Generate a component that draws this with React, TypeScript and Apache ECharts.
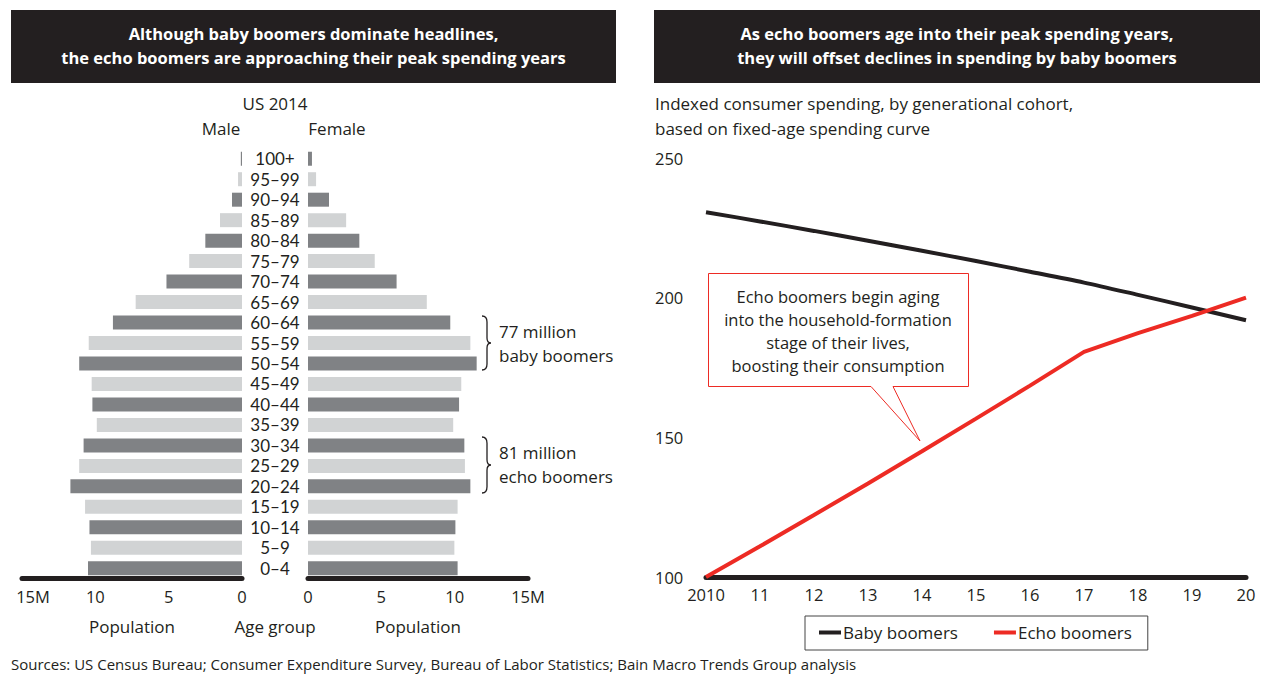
import React, { useEffect, useRef } from "react";
import * as echarts from "echarts";

const ageGroups = ["0–4","5–9","10–14","15–19","20–24","25–29","30–34","35–39","40–44","45–49","50–54","55–59","60–64","65–69","70–74","75–79","80–84","85–89","90–94","95–99","100+"];
const maleM = [10.5,10.3,10.4,10.7,11.7,11.1,10.8,9.9,10.2,10.25,11.1,10.45,8.8,7.25,5.15,3.6,2.5,1.5,0.68,0.27,0.08];
const femaleM = [10.2,9.98,10.05,10.2,11.07,10.7,10.66,9.9,10.3,10.45,11.5,11.07,9.7,8.1,6.04,4.55,3.5,2.6,1.43,0.55,0.27];

const years = ["2010","11","12","13","14","15","16","17","18","19","20"];
const babyBoomers = [230.6,227.3,223.9,220.4,216.8,213.1,209.3,205.4,201.0,196.5,191.9];
const echoBoomers = [100,111,122.2,133.5,145,156.7,168.5,180.6,187.3,193.5,200];

const DARK = "#808285";
const LIGHT = "#d1d3d4";
const INK = "#231f20";
const RED = "#ed2b24";
const FONT = "'Open Sans'";

const BRACE = "M0,0 Q5,0 5,6 L5,22 Q5,27 9,27 Q5,27 5,32 L5,48 Q5,54 0,54";

export default function App() {
  const ref = useRef<HTMLDivElement>(null);
  useEffect(() => {
    const BraceShape = echarts.graphic.extendPath(BRACE, {});
    echarts.graphic.registerShape("braceShape", BraceShape);
    const chart = echarts.init(ref.current!, null, { renderer: "svg" });
    const txt = { fontFamily: "Open Sans", fontSize: 16.5, color: INK };
    const barColor = (p: any) => (p.dataIndex % 2 === 0 ? DARK : LIGHT);
    const t = (x: number, y: number, text: string, extra: any = {}) => ({
      type: "text", x, y, ...extra,
      style: { text, fill: INK, font: `17px ${FONT}`, verticalAlign: "middle", ...(extra.style || {}) },
    });
    chart.setOption({
      animation: false,
      textStyle: { fontFamily: "Open Sans" },
      grid: [
        { left: 22, width: 220, top: 148.5, height: 430 },
        { left: 308, width: 220, top: 148.5, height: 430 },
        { left: 706, right: 18, top: 158, bottom: 102 },
      ],
      xAxis: [
        {
          gridIndex: 0, type: "value", inverse: true, min: 0, max: 15, interval: 5,
          axisLine: { show: true, lineStyle: { color: INK, width: 5 } },
          axisTick: { show: false }, splitLine: { show: false },
          axisLabel: {
            ...txt, margin: 9,
            formatter: (v: number) => (v === 15 ? "{m|15M}" : String(v)),
            rich: { m: { ...txt, padding: [0, 0, 0, 22] } },
          },
          name: "Population", nameLocation: "middle", nameGap: 39,
          nameTextStyle: { ...txt, fontSize: 17 },
        },
        {
          gridIndex: 1, type: "value", min: 0, max: 15, interval: 5,
          axisLine: { show: true, lineStyle: { color: INK, width: 5 } },
          axisTick: { show: false }, splitLine: { show: false },
          axisLabel: { ...txt, margin: 9, formatter: (v: number) => (v === 15 ? "15M" : String(v)) },
          name: "Population", nameLocation: "middle", nameGap: 39,
          nameTextStyle: { ...txt, fontSize: 17 },
        },
        {
          gridIndex: 2, type: "category", data: years, boundaryGap: false,
          axisLine: { show: true, lineStyle: { color: INK, width: 5 } },
          axisTick: { show: false },
          axisLabel: { ...txt, margin: 9, interval: 0 },
        },
      ],
      yAxis: [
        {
          gridIndex: 0, type: "category", data: ageGroups, position: "right",
          axisLine: { show: false }, axisTick: { show: false },
          axisLabel: { fontFamily: "Lato", fontSize: 17, color: INK, align: "center", margin: 33, interval: 0, lineHeight: 18 },
        },
        {
          gridIndex: 1, type: "category", data: ageGroups,
          axisLine: { show: false }, axisTick: { show: false }, axisLabel: { show: false },
        },
        {
          gridIndex: 2, type: "value", min: 100, max: 250, interval: 50,
          axisLine: { show: false }, axisTick: { show: false }, splitLine: { show: false },
          axisLabel: { ...txt, align: "left", margin: 51 },
        },
      ],
      legend: {
        data: ["Baby boomers", "Echo boomers"],
        left: 805, top: 616,
        borderColor: "#444", borderWidth: 1, padding: [8, 16, 9, 14],
        itemWidth: 22, itemHeight: 4, itemGap: 36, icon: "rect",
        textStyle: { ...txt, fontSize: 17, padding: [0, 0, 0, -3] },
      },
      series: [
        { type: "bar", name: "Male", xAxisIndex: 0, yAxisIndex: 0, data: maleM, barWidth: 14, itemStyle: { color: barColor } },
        { type: "bar", name: "Female", xAxisIndex: 1, yAxisIndex: 1, data: femaleM, barWidth: 14, itemStyle: { color: barColor } },
        { type: "line", name: "Baby boomers", xAxisIndex: 2, yAxisIndex: 2, data: babyBoomers, smooth: 0.3, showSymbol: false, lineStyle: { color: INK, width: 4 }, itemStyle: { color: INK } },
        { type: "line", name: "Echo boomers", xAxisIndex: 2, yAxisIndex: 2, data: echoBoomers, showSymbol: false, lineStyle: { color: RED, width: 4 }, itemStyle: { color: RED } },
      ],
      graphic: [
        { type: "rect", shape: { x: 11, y: 10, width: 605, height: 73 }, style: { fill: INK } },
        { type: "rect", shape: { x: 654, y: 10, width: 606, height: 73 }, style: { fill: INK } },
        { type: "text", x: 313.5, y: 33, style: { text: "Although baby boomers dominate headlines,", fill: "#fff", font: `bold 16.5px ${FONT}`, align: "center", verticalAlign: "middle" } },
        { type: "text", x: 313.5, y: 57, style: { text: "the echo boomers are approaching their peak spending years", fill: "#fff", font: `bold 16.5px ${FONT}`, align: "center", verticalAlign: "middle" } },
        { type: "text", x: 957, y: 33, style: { text: "As echo boomers age into their peak spending years,", fill: "#fff", font: `bold 16.5px ${FONT}`, align: "center", verticalAlign: "middle" } },
        { type: "text", x: 957, y: 57, style: { text: "they will offset declines in spending by baby boomers", fill: "#fff", font: `bold 16.5px ${FONT}`, align: "center", verticalAlign: "middle" } },
        t(275, 103, "US 2014", { style: { align: "center" } }),
        t(221, 128, "Male", { style: { align: "center" } }),
        t(337, 128, "Female", { style: { align: "center" } }),
        t(275, 626, "Age group", { style: { align: "center" } }),
        { type: "braceShape", x: 482, y: 316, scaleX: 1, scaleY: 1, style: { stroke: INK, lineWidth: 1.3, fill: "none" } },
        { type: "braceShape", x: 482, y: 437, scaleX: 1, scaleY: 56 / 54, style: { stroke: INK, lineWidth: 1.3, fill: "none" } },
        t(499, 331, "77 million"),
        t(499, 355, "baby boomers"),
        t(499, 452, "81 million"),
        t(499, 476, "echo boomers"),
        t(655, 103, "Indexed consumer spending, by generational cohort,"),
        t(655, 128, "based on fixed-age spending curve"),
        {
          type: "polygon", z: 10,
          shape: { points: [[708.5, 273.5], [968.5, 273.5], [968.5, 386.5], [893, 386.5], [920, 441], [871, 386.5], [708.5, 386.5]] },
          style: { fill: "#fff", stroke: RED, lineWidth: 1 },
        },
        t(838, 296, "Echo boomers begin aging", { z: 11, style: { align: "center", font: `16.5px ${FONT}` } }),
        t(838, 319, "into the household-formation", { z: 11, style: { align: "center", font: `16.5px ${FONT}` } }),
        t(838, 342, "stage of their lives,", { z: 11, style: { align: "center", font: `16.5px ${FONT}` } }),
        t(838, 365, "boosting their consumption", { z: 11, style: { align: "center", font: `16.5px ${FONT}` } }),
        t(11, 664, "Sources: US Census Bureau; Consumer Expenditure Survey, Bureau of Labor Statistics; Bain Macro Trends Group analysis", { style: { font: `15px ${FONT}` } }),
      ],
    });
    return () => chart.dispose();
  }, []);
  return <div ref={ref} style={{ position: "fixed", left: 0, top: 0, width: 1264, height: 679, background: "#fff" }} />;
}
